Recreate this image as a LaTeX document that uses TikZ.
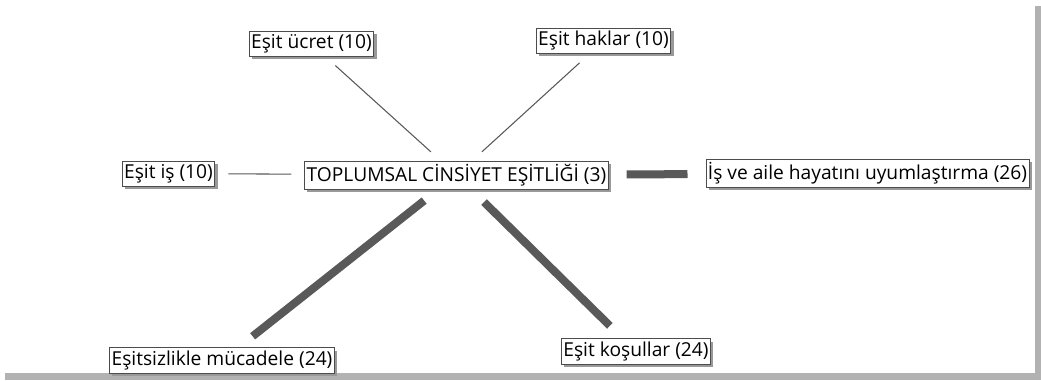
\documentclass[tikz,border=0pt]{standalone}
\usepackage{fontspec}
\setmainfont{Open Sans}
\usetikzlibrary{shadows}
\begin{document}
\begin{tikzpicture}[x=0.75pt,y=-0.75pt,
  kod/.style={draw=black!70, line width=0.6pt, fill=white, inner xsep=1.5pt, inner ysep=2.3pt,
    font=\fontsize{14.4}{16}\selectfont,
    drop shadow={shadow xshift=2pt, shadow yshift=-2pt, fill=black!40, opacity=1}},
  ince/.style={draw=black!65, line width=0.8pt, shorten <=9.75pt, shorten >=9.75pt},
  kalin/.style={draw=black!65, line width=6pt, shorten <=13.5pt, shorten >=13.5pt}]
\useasboundingbox (0,0) rectangle (1041,380);
% page and its shadow
\fill[black!30] (5,6) rectangle (1041,380);
\fill[white] (0,0) rectangle (1035,373);
\node[kod] (kod0) at (456.5,175){TOPLUMSAL CİNSİYET EŞİTLİĞİ (3)};
\node[kod] (kod1) at (311.5,44){Eşit ücret (10)};
\draw[ince](kod0) -- (kod1);
\node[kod] (kod2) at (603.5,41){Eşit haklar (10)};
\draw[ince](kod0) -- (kod2);
\node[kod] (kod3) at (168.5,173.5){Eşit iş (10)};
\draw[ince](kod0) -- (kod3);
\node[kod] (kod4) at (867.5,173.5){İş ve aile hayatını uyumlaştırma (26)};
\draw[kalin](kod0) -- (kod4);
\node[kod] (kod5) at (222,360.5){Eşitsizlikle mücadele (24)};
\draw[kalin](kod0) -- (kod5);
\node[kod] (kod6) at (636,351.5){Eşit koşullar (24)};
\draw[kalin](kod0) -- (kod6);
\end{tikzpicture}
\end{document}
